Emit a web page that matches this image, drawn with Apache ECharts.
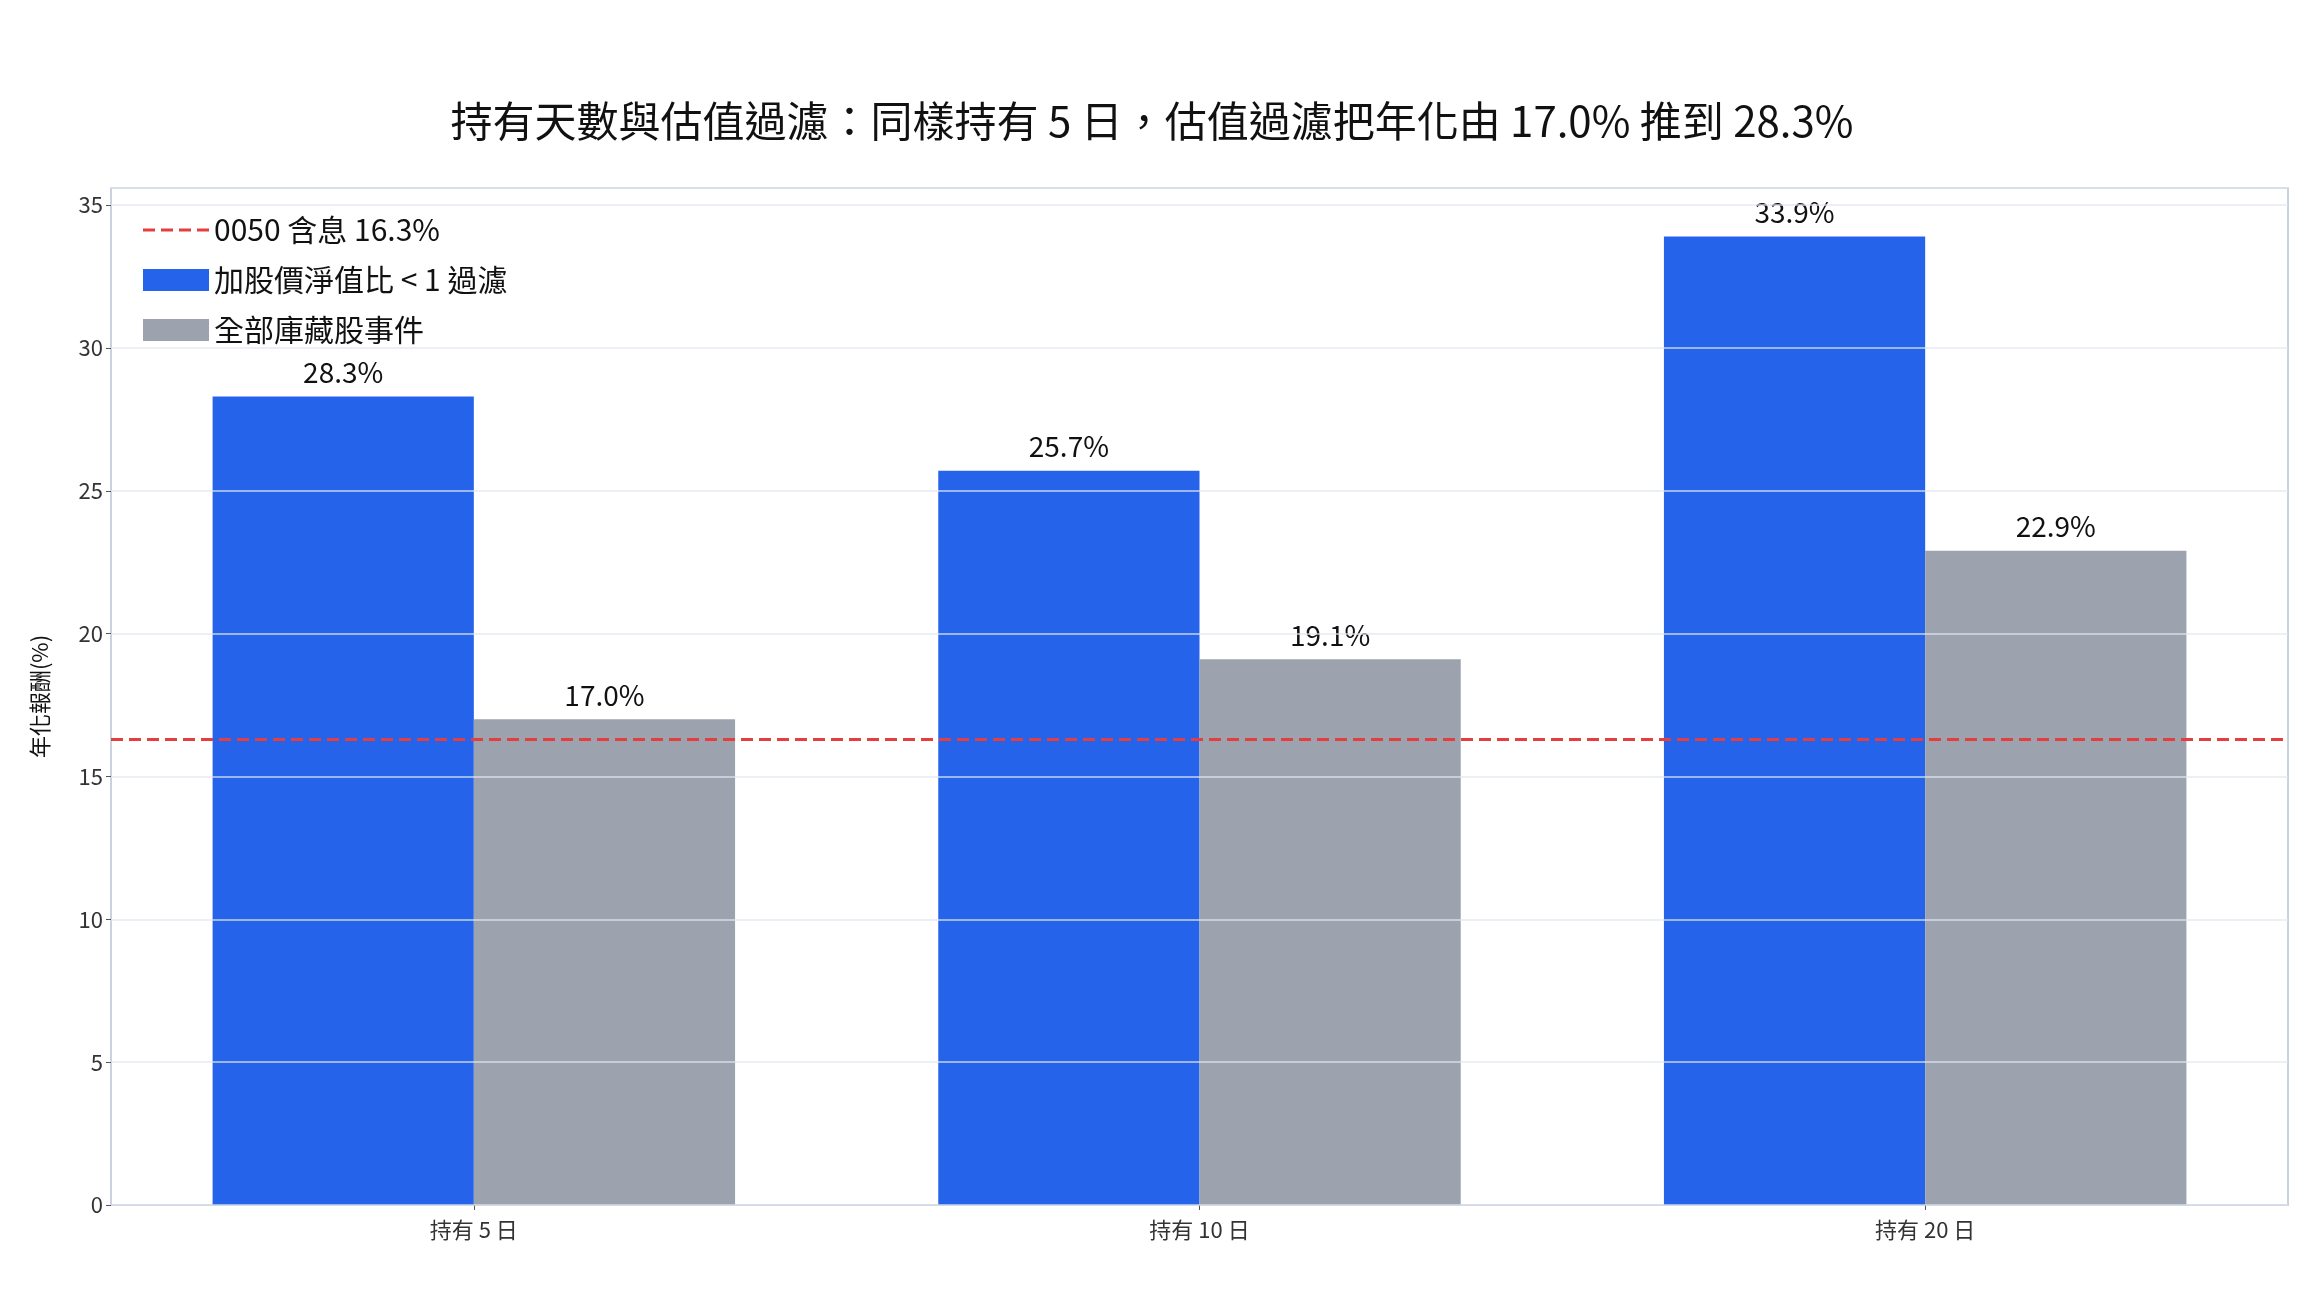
<!DOCTYPE html>
<html><head><meta charset="utf-8">
<script src="https://cdn.jsdelivr.net/npm/echarts@6/dist/echarts.min.js"></script>
<style>html,body{margin:0;padding:0;background:#fff}#c{width:2304px;height:1296px}</style>
</head><body><div id="c"></div>
<script>
const categories = ['持有 5 日', '持有 10 日', '持有 20 日'];
const filtered = [28.3, 25.7, 33.9];
const allEvents = [17.0, 19.1, 22.9];
const benchmark = 16.3;
const yTicks = [0, 5, 10, 15, 20, 25, 30, 35];
const font = '"Noto Sans CJK TC", "Noto Sans", sans-serif';
const chart = echarts.init(document.getElementById('c'));
const lbl = {show: true, position: 'top', distance: 10, fontSize: 28, color: '#111', fontFamily: font, formatter: p => p.value.toFixed(1) + '%'};
chart.setOption({
  animation: false,
  textStyle: {fontFamily: font},
  title: {text: '持有天數與估值過濾：同樣持有 5 日，估值過濾把年化由 17.0% 推到 28.3%', left: 'center', top: 95,
    textStyle: {fontSize: 42, fontWeight: 'normal', color: '#111', fontFamily: font}},
  legend: {left: 138, top: 210, orient: 'vertical', itemGap: 20, itemWidth: 66, itemHeight: 22,
    textStyle: {fontSize: 30, color: '#111', fontFamily: font},
    data: [
      {name: '0050 含息 16.3%', icon: 'path://M0,10h12v3h-12zM18,10h12v3h-12zM36,10h12v3h-12zM54,10h12v3h-12z'},
      {name: '加股價淨值比 < 1 過濾', icon: 'rect'},
      {name: '全部庫藏股事件', icon: 'rect'}]},
  grid: {left: 111, right: 16, top: 188, bottom: 91, show: true, borderColor: '#b8c4d6', borderWidth: 1.5},
  xAxis: {type: 'category', data: categories,
    axisLine: {lineStyle: {color: '#b8c4d6'}}, axisTick: {show: true, lineStyle: {color: '#555'}, alignWithLabel: true},
    axisLabel: {fontSize: 22, color: '#333', margin: 14}},
  yAxis: {type: 'value', min: 0, max: 35.6, interval: 5, z: 10,
    name: '年化報酬(%)', nameLocation: 'middle', nameGap: 60, nameRotate: 90,
    nameTextStyle: {fontSize: 22, color: '#111'},
    axisLine: {show: false}, axisTick: {show: true, lineStyle: {color: '#555'}},
    axisLabel: {fontSize: 22, color: '#333', showMaxLabel: false, formatter: v => yTicks.includes(v) ? String(v) : ''},
    splitLine: {lineStyle: {color: 'rgba(225,230,238,0.85)', width: 1.5}}},
  series: [
    {name: '0050 含息 16.3%', type: 'line', data: [], itemStyle: {color: '#e53e3e'}, lineStyle: {color: '#e53e3e'},
      markLine: {silent: true, symbol: 'none', label: {show: false},
        lineStyle: {color: '#e53e3e', type: [12, 6], width: 3}, data: [{yAxis: benchmark}]}},
    {name: '加股價淨值比 < 1 過濾', type: 'bar', data: filtered, barWidth: '36%', barGap: '0%',
      itemStyle: {color: '#2563eb'}, label: lbl},
    {name: '全部庫藏股事件', type: 'bar', data: allEvents, barWidth: '36%',
      itemStyle: {color: '#9ca3af'}, label: lbl}
  ]
});
</script></body></html>
